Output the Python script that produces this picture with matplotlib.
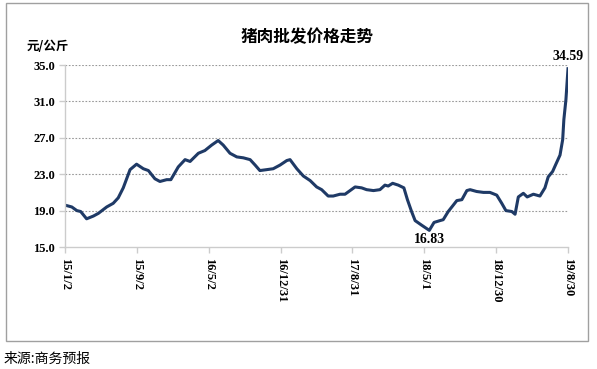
import matplotlib.pyplot as plt
import matplotlib.patches as patches
import pandas as pd

# days since 2015-01-02 and price (yuan/kg)
days = [0, 23, 40, 53, 73, 96, 113, 141, 163, 180, 197, 220, 242, 265, 282,
        304, 321, 344, 358, 383, 406, 423, 451, 473, 496, 518, 535, 558, 581,
        603, 626, 643, 659, 682, 704, 727, 750, 761, 784, 806, 829, 851, 868,
        890, 907, 930, 947, 964, 981, 1003, 1020, 1043, 1065, 1082, 1093, 1108,
        1127, 1146, 1158, 1172, 1184, 1206, 1232, 1248, 1268, 1279, 1296, 1313,
        1325, 1342, 1359, 1370, 1392, 1415, 1437, 1460, 1477, 1491, 1511, 1522,
        1533, 1550, 1563, 1584, 1606, 1623, 1634, 1649, 1660, 1674, 1683, 1687,
        1694, 1701]
price = [19.6, 19.4, 19.0, 18.9, 18.1, 18.4, 18.7, 19.4, 19.8, 20.4, 21.5,
         23.5, 24.1, 23.6, 23.4, 22.5, 22.2, 22.4, 22.4, 23.8, 24.6, 24.4, 25.3,
         25.6, 26.2, 26.7, 26.2, 25.3, 24.9, 24.8, 24.6, 24.0, 23.4, 23.5, 23.6,
         24.0, 24.5, 24.6, 23.6, 22.8, 22.3, 21.6, 21.3, 20.6, 20.6, 20.8, 20.8,
         21.2, 21.6, 21.5, 21.3, 21.2, 21.3, 21.8, 21.7, 22.0, 21.8, 21.5, 20.2,
         18.9, 17.9, 17.4, 16.83, 17.7, 17.9, 18.0, 18.9, 19.6, 20.1, 20.2, 21.2,
         21.3, 21.1, 21.0, 21.0, 20.7, 19.8, 19.0, 18.9, 18.6, 20.5, 20.9, 20.5,
         20.8, 20.6, 21.5, 22.7, 23.3, 24.1, 25.1, 26.8, 29.0, 31.2, 34.59]

tick_labels = ['15/1/2', '15/9/2', '16/5/2', '16/12/31', '17/8/31',
               '18/5/1', '18/12/30', '19/8/30']
y_ticks = [15.0, 19.0, 23.0, 27.0, 31.0, 35.0]

start = pd.Timestamp('2015-01-02')
dates = start + pd.to_timedelta(days, unit='D')
tick_dates = [pd.Timestamp('20' + s.replace('/', '-')) for s in tick_labels]

serif = ['Liberation Serif', 'DejaVu Serif']
cjk = ['Noto Sans CJK SC', 'DejaVu Sans']

fig = plt.figure(figsize=(5.97, 3.69), dpi=100)
fig.patches.append(patches.Rectangle((6 / 597, 1 - 341 / 369), 582 / 597, 338 / 369,
                                     transform=fig.transFigure, fill=False,
                                     edgecolor='#a0a0a0', linewidth=1.0))
ax = fig.add_axes([65 / 597, 1 - 247 / 369, 503 / 597, 182 / 369])

ax.plot(dates, price, color='#1f3a66', linewidth=2.2, solid_joinstyle='round')

ax.set_ylim(15, 35)
ax.set_xlim(tick_dates[0], tick_dates[-1])
ax.set_yticks(y_ticks)
ax.set_yticklabels(['%.1f' % v for v in y_ticks], fontfamily=serif,
                   fontweight='bold', fontsize=9)
ax.set_xticks(tick_dates)
ax.set_xticklabels(tick_labels, rotation=270, fontfamily=serif,
                   fontweight='bold', fontsize=9, va='top', ha='center')
for v in y_ticks[1:]:
    ax.axhline(v, color='#999999', linestyle=(0, (1.5, 1.5)), linewidth=0.8, zorder=0)

for s in ['top', 'right']:
    ax.spines[s].set_visible(False)
for s in ['left', 'bottom']:
    ax.spines[s].set_color('#cccccc')
    ax.spines[s].set_linewidth(1.0)
ax.tick_params(axis='both', color='#cccccc', length=4, width=1)
ax.tick_params(axis='y', pad=3)
ax.tick_params(axis='x', pad=4)

ax.annotate('34.59', (dates[-1], price[-1]), xytext=(0, 4), textcoords='offset points',
            ha='center', va='bottom', fontfamily=serif, fontweight='bold', fontsize=10)
imin = price.index(min(price))
ax.annotate('%.2f' % price[imin], (dates[imin], 15), xytext=(0, 1),
            textcoords='offset points', ha='center', va='bottom',
            fontfamily=serif, fontweight='bold', fontsize=10)

fig.text(307 / 597, 1 - 37 / 369, '猪肉批发价格走势', ha='center', va='center',
         fontfamily=cjk, fontweight='bold', fontsize=12)
fig.text(27 / 597, 1 - 47 / 369, '元/公斤', ha='left', va='center',
         fontfamily=cjk, fontweight='bold', fontsize=9)
fig.text(4 / 597, 1 - 359 / 369, '来源:商务预报', ha='left', va='center',
         fontfamily=cjk, fontsize=10)

fig.savefig('out.png', dpi=100)
